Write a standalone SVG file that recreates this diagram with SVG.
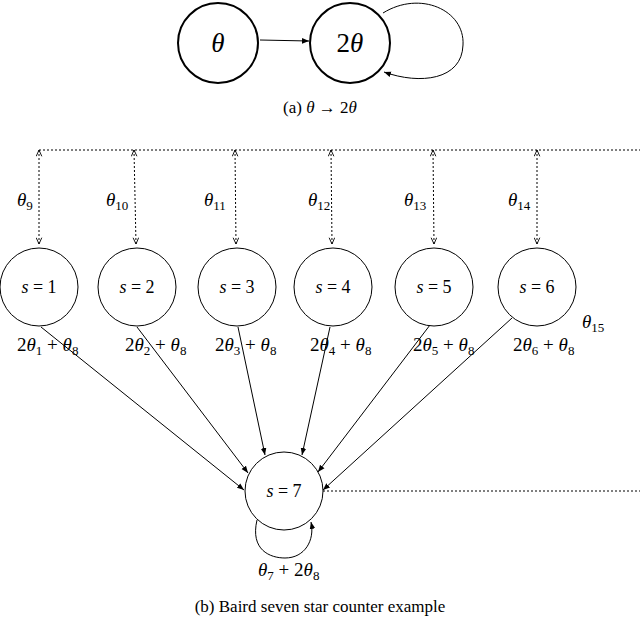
<svg xmlns="http://www.w3.org/2000/svg" width="640" height="620" viewBox="0 0 640 620">
<style>
text{font-family:"Liberation Serif","DejaVu Serif",serif;fill:#000}
.m{font-style:italic}
.n{fill:#fff;stroke:#000;stroke-width:1}
.b{fill:#fff;stroke:#000;stroke-width:2}
.e{fill:none;stroke:#000;stroke-width:1}
.d{fill:none;stroke:#000;stroke-width:1;stroke-dasharray:2,2}
</style>
<defs>
<marker id="a" viewBox="0 0 10 10" refX="10" refY="5" markerWidth="7" markerHeight="7" orient="auto-start-reverse"><path d="M0,1L10,5L0,9z" fill="#000"/></marker>
<marker id="o" viewBox="0 0 10 10" refX="10" refY="5" markerWidth="7" markerHeight="7" orient="auto-start-reverse"><path d="M1,1L10,5L1,9" fill="none" stroke="#000" stroke-width="1.3"/></marker>
</defs>
<g id="connectors">
<line class="e" x1="260" y1="40" x2="309" y2="41" marker-end="url(#a)"/>
<path class="e" d="M383,13 C420,-10 465,10 463,45 C462,80 420,85 384,72" marker-end="url(#a)"/>
<line class="d" x1="39" y1="150" x2="640" y2="150"/>
<line class="d" x1="39" y1="150" x2="39" y2="244" marker-start="url(#o)" marker-end="url(#o)"/>
<line class="d" x1="134" y1="150" x2="136" y2="244" marker-start="url(#o)" marker-end="url(#o)"/>
<line class="d" x1="235" y1="150" x2="236" y2="244" marker-start="url(#o)" marker-end="url(#o)"/>
<line class="d" x1="331" y1="150" x2="332" y2="244" marker-start="url(#o)" marker-end="url(#o)"/>
<line class="d" x1="433" y1="150" x2="434" y2="244" marker-start="url(#o)" marker-end="url(#o)"/>
<line class="d" x1="537" y1="150" x2="537" y2="244" marker-start="url(#o)" marker-end="url(#o)"/>
<line class="d" x1="323" y1="491" x2="640" y2="491"/>
<line class="e" x1="41" y1="327" x2="244" y2="490" marker-end="url(#a)"/>
<line class="e" x1="137" y1="327" x2="248" y2="473" marker-end="url(#a)"/>
<line class="e" x1="238" y1="327" x2="265" y2="455" marker-end="url(#a)"/>
<line class="e" x1="330" y1="327" x2="302" y2="455" marker-end="url(#a)"/>
<line class="e" x1="430" y1="325" x2="318" y2="472" marker-end="url(#a)"/>
<line class="e" x1="512" y1="318" x2="323" y2="490" marker-end="url(#a)"/>
<path class="e" d="M257,520 C250,550 270,558 285,558 C305,558 315,540 311,522" marker-end="url(#a)"/>
</g>
<g id="n-theta"><circle class="b" cx="218" cy="43" r="40"/><text x="218" y="52" font-size="27" text-anchor="middle" class="m">θ</text></g>
<g id="n-2theta"><circle class="b" cx="350" cy="43" r="40"/><text x="350" y="52" font-size="27" text-anchor="middle"><tspan>2</tspan><tspan class="m">θ</tspan></text></g>
<text x="320" y="113" font-size="17" text-anchor="middle">(a) <tspan class="m">θ</tspan> → 2<tspan class="m">θ</tspan></text>
<g id="s1"><circle class="n" cx="39" cy="287" r="39"/><text x="39" y="293" font-size="18" text-anchor="middle"><tspan class="m">s</tspan> = 1</text></g>
<g id="s2"><circle class="n" cx="137" cy="287" r="39"/><text x="137" y="293" font-size="18" text-anchor="middle"><tspan class="m">s</tspan> = 2</text></g>
<g id="s3"><circle class="n" cx="237" cy="287" r="39"/><text x="237" y="293" font-size="18" text-anchor="middle"><tspan class="m">s</tspan> = 3</text></g>
<g id="s4"><circle class="n" cx="333" cy="287" r="39"/><text x="333" y="293" font-size="18" text-anchor="middle"><tspan class="m">s</tspan> = 4</text></g>
<g id="s5"><circle class="n" cx="434" cy="287" r="39"/><text x="434" y="293" font-size="18" text-anchor="middle"><tspan class="m">s</tspan> = 5</text></g>
<g id="s6"><circle class="n" cx="537" cy="287" r="39"/><text x="537" y="293" font-size="18" text-anchor="middle"><tspan class="m">s</tspan> = 6</text></g>
<g id="s7"><circle class="n" cx="284" cy="491" r="39"/><text x="284" y="497" font-size="18" text-anchor="middle"><tspan class="m">s</tspan> = 7</text></g>
<g font-size="19">
<text x="17" y="206"><tspan class="m">θ</tspan><tspan font-size="13" dy="4">9</tspan></text>
<text x="106" y="206"><tspan class="m">θ</tspan><tspan font-size="13" dy="4">10</tspan></text>
<text x="204" y="206"><tspan class="m">θ</tspan><tspan font-size="13" dy="4">11</tspan></text>
<text x="308" y="206"><tspan class="m">θ</tspan><tspan font-size="13" dy="4">12</tspan></text>
<text x="404" y="206"><tspan class="m">θ</tspan><tspan font-size="13" dy="4">13</tspan></text>
<text x="508" y="206"><tspan class="m">θ</tspan><tspan font-size="13" dy="4">14</tspan></text>
<text x="582" y="328"><tspan class="m">θ</tspan><tspan font-size="13" dy="4">15</tspan></text>
<text x="17" y="351">2<tspan class="m">θ</tspan><tspan font-size="13" dy="4">1</tspan><tspan dy="-4"> + </tspan><tspan class="m">θ</tspan><tspan font-size="13" dy="4">8</tspan></text>
<text x="125" y="351">2<tspan class="m">θ</tspan><tspan font-size="13" dy="4">2</tspan><tspan dy="-4"> + </tspan><tspan class="m">θ</tspan><tspan font-size="13" dy="4">8</tspan></text>
<text x="215" y="351">2<tspan class="m">θ</tspan><tspan font-size="13" dy="4">3</tspan><tspan dy="-4"> + </tspan><tspan class="m">θ</tspan><tspan font-size="13" dy="4">8</tspan></text>
<text x="310" y="351">2<tspan class="m">θ</tspan><tspan font-size="13" dy="4">4</tspan><tspan dy="-4"> + </tspan><tspan class="m">θ</tspan><tspan font-size="13" dy="4">8</tspan></text>
<text x="413" y="351">2<tspan class="m">θ</tspan><tspan font-size="13" dy="4">5</tspan><tspan dy="-4"> + </tspan><tspan class="m">θ</tspan><tspan font-size="13" dy="4">8</tspan></text>
<text x="513" y="351">2<tspan class="m">θ</tspan><tspan font-size="13" dy="4">6</tspan><tspan dy="-4"> + </tspan><tspan class="m">θ</tspan><tspan font-size="13" dy="4">8</tspan></text>
<text x="258" y="576"><tspan class="m">θ</tspan><tspan font-size="13" dy="4">7</tspan><tspan dy="-4"> + 2</tspan><tspan class="m">θ</tspan><tspan font-size="13" dy="4">8</tspan></text>
</g>
<text x="320" y="612" font-size="17" text-anchor="middle">(b) Baird seven star counter example</text>
</svg>
